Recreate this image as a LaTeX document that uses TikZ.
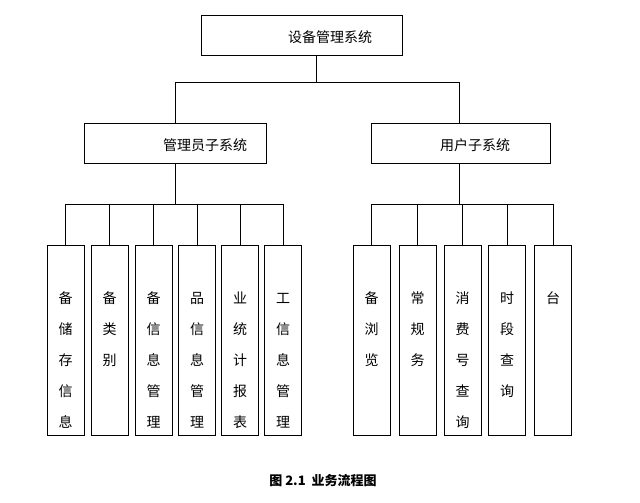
\documentclass[tikz,border=0pt]{standalone}
\usepackage{fontspec}
\newfontfamily\cjk{Noto Sans CJK SC}
\begin{document}
\begin{tikzpicture}[x=1pt,y=-1pt,
  box/.style={draw,line width=0.6pt,inner sep=0pt},
  lab/.style={font=\cjk\fontsize{14}{14}\selectfont},
  ln/.style={line width=0.6pt}]
\useasboundingbox (0,0) rectangle (640,503);
\node[box,minimum width=201,minimum height=40] (top) at (301.5,35) {};
\node[lab] at (330,37) {设备管理系统};
\node[box,minimum width=182,minimum height=40] (adm) at (175,143) {};
\node[lab] at (205,145) {管理员子系统};
\node[box,minimum width=179,minimum height=40] (usr) at (460.5,143) {};
\node[lab] at (475,145) {用户子系统};
\draw[ln] (316,55) -- (316,82);
\draw[ln] (175,123) -- (175,82) -- (459,82) -- (459,123);
\draw[ln] (175,163) -- (175,204);
\draw[ln] (459,163) -- (459,204);
\draw[ln] (66,204) -- (283,204);
\draw[ln] (372,204) -- (553,204);
\foreach \n/\cx/\t in {l1/65.5/{备,储,存,信,息}, l2/109.5/{备,类,别}, l3/153.5/{备,信,息,管,理}, l4/197/{品,信,息,管,理}, l5/240/{业,统,计,报,表}, l6/283/{工,信,息,管,理}, r1/371.5/{备,浏,览}, r2/417.5/{常,规,务}, r3/462.5/{消,费,号,查,询}, r4/507/{时,段,查,询}, r5/553/{台}} {
  \node[box,minimum width=37,minimum height=190] (\n) at (\cx,340) {};
  \draw[ln] (\cx,204) -- (\n.north);
  \foreach \c [count=\i] in \t {
    \node[lab] at (\cx,298+31*\i-31) {\c};
  }
}
\node[font=\cjk\bfseries\fontsize{13}{13}\selectfont] (cap) at (323,481) {图 2.1\ \ 业务流程图};
\end{tikzpicture}
\end{document}
